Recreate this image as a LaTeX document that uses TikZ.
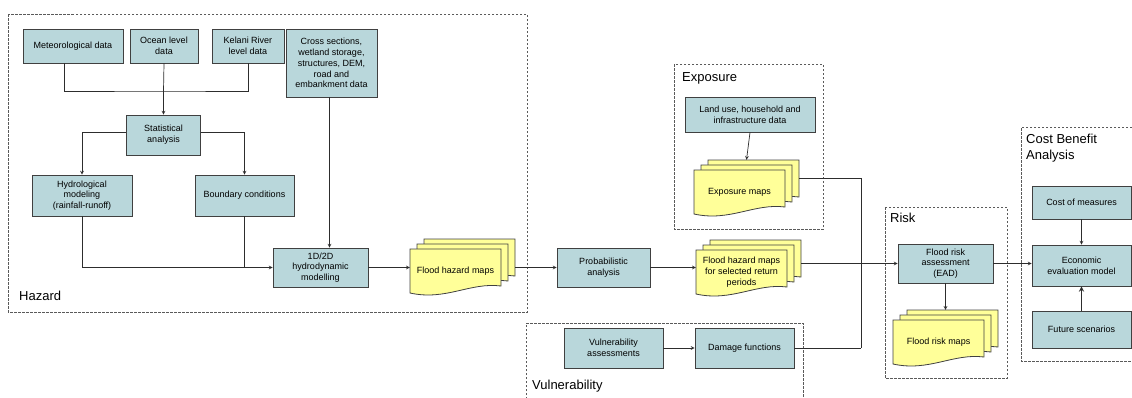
\documentclass[tikz,border=0pt]{standalone}
\usepackage{fontspec}
\setmainfont{Liberation Sans}
\definecolor{boxfill}{RGB}{185,215,219}
\definecolor{boxline}{RGB}{64,64,64}
\definecolor{docfill}{RGB}{255,255,153}
\definecolor{groupline}{RGB}{90,90,90}
\definecolor{linecol}{RGB}{45,45,45}
\usepackage{tikz}
\newcommand{\mapstack}[4]{%
  \foreach \k in {2,1,0}
    \pic at ({#2+7*\k},{#3-5*\k}) {mapdoc};
  \node[stackarea] (#1) at ({#2+52.5},{#3+19}) {};
  \node[doctext] (#1-txt) at ({#2+45.5},{#3+22}) {#4};
}
\begin{document}
\begin{tikzpicture}[
        x=1pt, y=-1pt,
        box/.style={rectangle, draw=boxline, fill=boxfill, line width=0.9pt, align=center, inner sep=1pt, font=\fontsize{9}{10.8}\selectfont},
        doctext/.style={align=center, inner sep=0pt, font=\fontsize{9}{10.8}\selectfont},
        stackarea/.style={rectangle, minimum width=105, minimum height=58, inner sep=0pt},
        docline/.style={draw=boxline, fill=docfill, line width=0.8pt},
        group/.style={draw=groupline, line width=0.8pt, dash pattern=on 2.5pt off 1.5pt},
        grouptitle/.style={anchor=west, align=left, inner sep=0pt, font=\fontsize{13}{16.5}\selectfont},
        line/.style={draw=linecol, line width=0.7pt},
        arrow/.style={->, >=stealth, draw=linecol, line width=0.7pt},
        pics/mapdoc/.style={code={\draw[docline] (0,0) -- (91,0) -- (91,37) .. controls (60,33) and (36,52) .. (0,44) -- cycle;}}
    ]
        \useasboundingbox (0,0) rectangle (1132,397);

        \draw[group] (8,14) rectangle (527,312);
        \draw[group] (674,64) rectangle (823,229);
        \draw[group] (526,399) -- (526,323) -- (803,323) -- (803,399);
        \draw[group] (885,207) rectangle (1007,378);
        \draw[group] (1140,127) -- (1021,127) -- (1021,361) -- (1140,361);

        \node[grouptitle] (hazard) at (19,296) {Hazard};
        \node[grouptitle] (exposure) at (682,78) {Exposure};
        \node[grouptitle] (vulnerability) at (532,386) {Vulnerability};
        \node[grouptitle] (risk) at (890,218) {Risk};
        \node[grouptitle] (cba) at (1026,148) {Cost Benefit\\Analysis};

        \node[box, minimum width=100, minimum height=34] (met) at (73,46) {Meteorological data};
        \node[box, minimum width=68, minimum height=34] (ocean) at (164,46) {Ocean level\\data};
        \node[box, minimum width=72, minimum height=34] (kelani) at (248,46) {Kelani River\\level data};
        \node[box, minimum width=91, minimum height=68] (cross) at (331.5,63) {Cross sections,\\wetland storage,\\structures, DEM,\\road and\\embankment data};
        \node[box, minimum width=74, minimum height=40] (stat) at (163.5,135) {Statistical\\analysis};
        \node[box, minimum width=100, minimum height=41] (hydro) at (82,195.5) {Hydrological\\modeling\\(rainfall-runoff)};
        \node[box, minimum width=99, minimum height=41] (bound) at (244.5,195.5) {Boundary conditions};
        \node[box, minimum width=95, minimum height=39] (hydrodyn) at (320.5,267.5) {1D/2D\\hydrodynamic\\modelling};
        \mapstack{fhm}{410}{249}{Flood hazard maps}

        \node[box, minimum width=93, minimum height=39] (prob) at (603.5,267.5) {Probabilistic\\analysis};
        \mapstack{fhrp}{696}{250}{Flood hazard maps\\for selected return\\periods}

        \node[box, minimum width=130, minimum height=35] (landuse) at (750,114.5) {Land use, household and\\infrastructure data};
        \mapstack{expm}{694}{170}{Exposure maps}

        \node[box, minimum width=99, minimum height=40] (vulnass) at (613.5,348) {Vulnerability\\assessments};
        \node[box, minimum width=99, minimum height=40] (damage) at (744.5,348) {Damage functions};

        \node[box, minimum width=95, minimum height=39] (riskass) at (945.5,263.5) {Flood risk\\assessment\\(EAD)};
        \mapstack{frm}{893}{320}{Flood risk maps}

        \node[box, minimum width=99, minimum height=33] (cost) at (1081.5,202.5) {Cost of measures};
        \node[box, minimum width=99, minimum height=41] (econ) at (1081.5,265.5) {Economic\\evaluation model};
        \node[box, minimum width=99, minimum height=37] (future) at (1081.5,329.5) {Future scenarios};

        \coordinate (join) at (163.5,91);
        \coordinate (merge) at (861,348);

        \draw[line] ([xshift=-9]met.south) |- (join) -| (kelani.south);
        \draw[line] (ocean.south) -- (join);
        \draw[arrow] (join) -- (stat.north);
        \draw[arrow] ([yshift=3]stat.west) -| (hydro.north);
        \draw[arrow] ([yshift=3]stat.east) -| (bound.north);
        \draw[arrow] (hydro.south) |- (hydrodyn.west);
        \draw[line] (bound.south) -- (bound.south |- hydrodyn.west);
        \draw[arrow] ([xshift=-2]cross.south) -- ([xshift=-2]cross.south |- hydrodyn.north);
        \draw[arrow] (hydrodyn.east) -- (hydrodyn.east -| fhm.west);
        \draw[arrow] (fhm.east |- prob.west) -- (prob.west);
        \draw[arrow] (prob.east) -- (prob.east -| fhrp.west);
        \draw[arrow] (landuse.south) -- (expm.north);
        \draw[arrow] (vulnass.east) -- (damage.west);
        \draw[line] ([yshift=11]expm.east) -| (merge);
        \draw[line] (damage.east) -- (merge);
        \draw[arrow] (fhrp.east |- riskass.west) -- (riskass.west);
        \draw[arrow] (riskass.south) -- (frm.north);
        \draw[arrow] (riskass.east) -- (riskass.east -| econ.west);
        \draw[arrow] (cost.south) -- (econ.north);
        \draw[arrow, line width=1.3pt] (future.north) -- (econ.south);
    \end{tikzpicture}
\end{document}
